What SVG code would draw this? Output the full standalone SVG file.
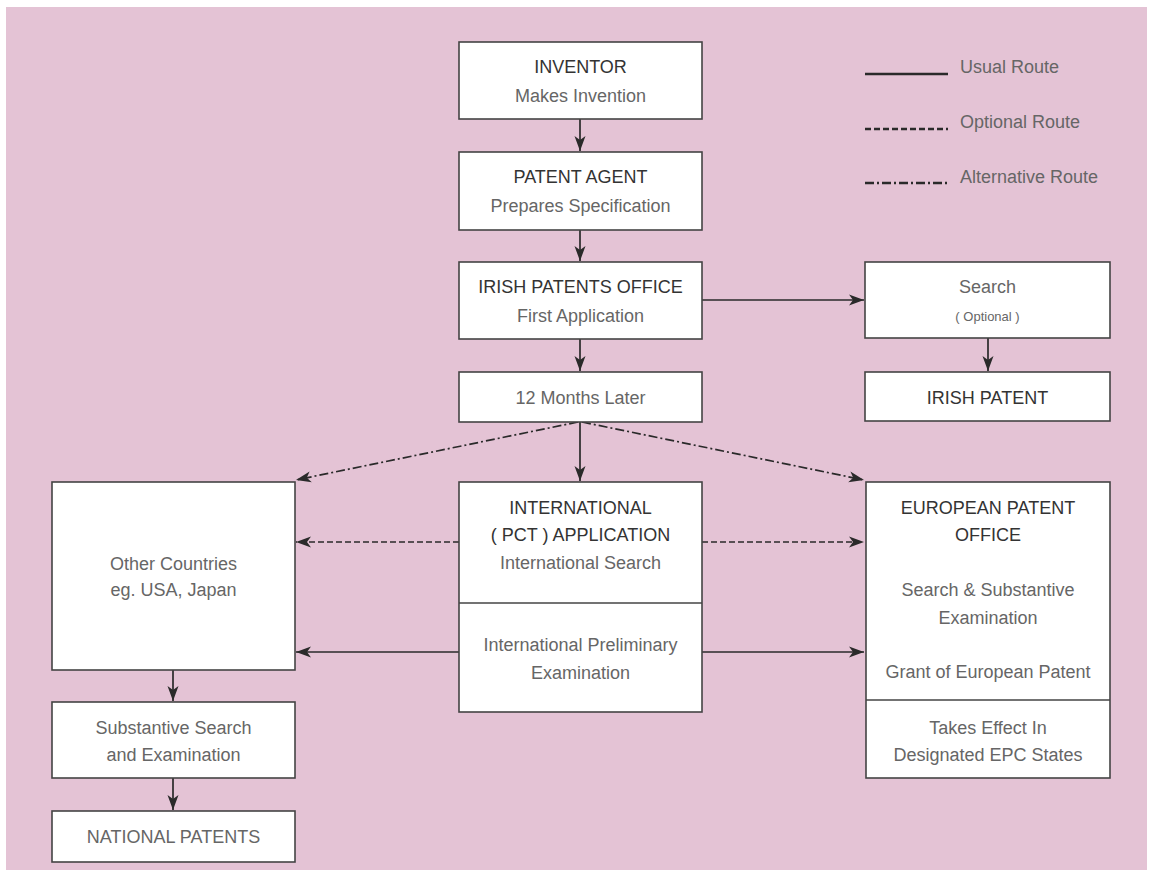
<svg xmlns="http://www.w3.org/2000/svg" width="1150" height="870" viewBox="0 0 1150 870">
<defs>
<marker id="ah" markerWidth="16" markerHeight="12" viewBox="0 0 16 12" refX="15" refY="6" orient="auto" markerUnits="userSpaceOnUse">
<path d="M0,0.5 L15,6 L0,11.5 L4,6 z" fill="#2a2a2a"/>
</marker>
<style>
.bx{fill:#fff;stroke:#444;stroke-width:1.6}
.dv{stroke:#444;stroke-width:1.6;fill:none}
.t{font-family:"Liberation Sans",Arial,sans-serif;font-size:18px;fill:#333;text-anchor:middle}
.s{font-family:"Liberation Sans",Arial,sans-serif;font-size:18px;fill:#666;text-anchor:middle}
.sm{font-family:"Liberation Sans",Arial,sans-serif;font-size:13px;fill:#666;text-anchor:middle}
.lg{font-family:"Liberation Sans",Arial,sans-serif;font-size:18px;fill:#666;text-anchor:start}
.c{stroke:#2a2a2a;stroke-width:1.7;fill:none}
.l{stroke:#2a2a2a;stroke-width:2.6;fill:none}
.ca{marker-end:url(#ah)}
.dash{stroke-dasharray:6,3}
.dd{stroke-dasharray:9,3,2,3}
</style>
</defs>
<rect x="6" y="7" width="1141" height="863" fill="#e4c3d5"/>

<g id="legend">
<line class="l" x1="865" y1="74" x2="948" y2="74"/>
<line class="l dash" x1="865" y1="129" x2="948" y2="129"/>
<line class="l dd" x1="865" y1="183" x2="948" y2="183"/>
<text class="lg" x="960" y="73">Usual Route</text>
<text class="lg" x="960" y="128">Optional Route</text>
<text class="lg" x="960" y="183">Alternative Route</text>
</g>

<g id="connectors">
<line class="c ca" x1="580" y1="119" x2="580" y2="151"/>
<line class="c ca" x1="580" y1="230" x2="580" y2="261"/>
<line class="c ca" x1="580" y1="339" x2="580" y2="371"/>
<line class="c ca" x1="702" y1="300" x2="864" y2="300"/>
<line class="c ca" x1="988" y1="338" x2="988" y2="371"/>
<line class="c ca" x1="580" y1="422" x2="580" y2="481"/>
<line class="c ca dd" x1="578" y1="422" x2="296" y2="480"/>
<line class="c ca dd" x1="582" y1="422" x2="864" y2="480"/>
<line class="c ca dash" x1="459" y1="542" x2="296" y2="542"/>
<line class="c ca dash" x1="702" y1="542" x2="864" y2="542"/>
<line class="c ca" x1="459" y1="652" x2="296" y2="652"/>
<line class="c ca" x1="702" y1="652" x2="864" y2="652"/>
<line class="c ca" x1="173" y1="670" x2="173" y2="701"/>
<line class="c ca" x1="173" y1="778" x2="173" y2="810"/>
</g>

<g id="inventor">
<rect class="bx" x="459" y="42" width="243" height="77"/>
<text class="t" x="580.5" y="73">INVENTOR</text>
<text class="s" x="580.5" y="102">Makes Invention</text>
</g>

<g id="patent-agent">
<rect class="bx" x="459" y="152" width="243" height="78"/>
<text class="t" x="580.5" y="183">PATENT AGENT</text>
<text class="s" x="580.5" y="212">Prepares Specification</text>
</g>

<g id="irish-office">
<rect class="bx" x="459" y="262" width="243" height="77"/>
<text class="t" x="580.5" y="293">IRISH PATENTS OFFICE</text>
<text class="s" x="580.5" y="322">First Application</text>
</g>

<g id="twelve-months">
<rect class="bx" x="459" y="372" width="243" height="50"/>
<text class="s" x="580.5" y="404">12 Months Later</text>
</g>

<g id="search">
<rect class="bx" x="865" y="262" width="245" height="76"/>
<text class="s" x="987.5" y="293">Search</text>
<text class="sm" x="987.5" y="321">( Optional )</text>
</g>

<g id="irish-patent">
<rect class="bx" x="865" y="372" width="245" height="49"/>
<text class="t" x="987.5" y="404">IRISH PATENT</text>
</g>

<g id="pct">
<rect class="bx" x="459" y="482" width="243" height="230"/>
<line class="dv" x1="459" y1="603" x2="702" y2="603"/>
<text class="t" x="580.5" y="514">INTERNATIONAL</text>
<text class="t" x="580.5" y="541">( PCT ) APPLICATION</text>
<text class="s" x="580.5" y="569">International Search</text>
<text class="s" x="580.5" y="651">International Preliminary</text>
<text class="s" x="580.5" y="679">Examination</text>
</g>

<g id="other-countries">
<rect class="bx" x="52" y="482" width="243" height="188"/>
<text class="s" x="173.5" y="570">Other Countries</text>
<text class="s" x="173.5" y="596">eg. USA, Japan</text>
</g>

<g id="substantive">
<rect class="bx" x="52" y="702" width="243" height="76"/>
<text class="s" x="173.5" y="734">Substantive Search</text>
<text class="s" x="173.5" y="761">and Examination</text>
</g>

<g id="national">
<rect class="bx" x="52" y="811" width="243" height="51"/>
<text class="s" x="173.5" y="843">NATIONAL PATENTS</text>
</g>

<g id="epo">
<rect class="bx" x="866" y="482" width="244" height="296"/>
<line class="dv" x1="866" y1="700" x2="1110" y2="700"/>
<text class="t" x="988" y="514">EUROPEAN PATENT</text>
<text class="t" x="988" y="541">OFFICE</text>
<text class="s" x="988" y="596">Search &amp; Substantive</text>
<text class="s" x="988" y="624">Examination</text>
<text class="s" x="988" y="678">Grant of European Patent</text>
<text class="s" x="988" y="734">Takes Effect In</text>
<text class="s" x="988" y="761">Designated EPC States</text>
</g>
</svg>
